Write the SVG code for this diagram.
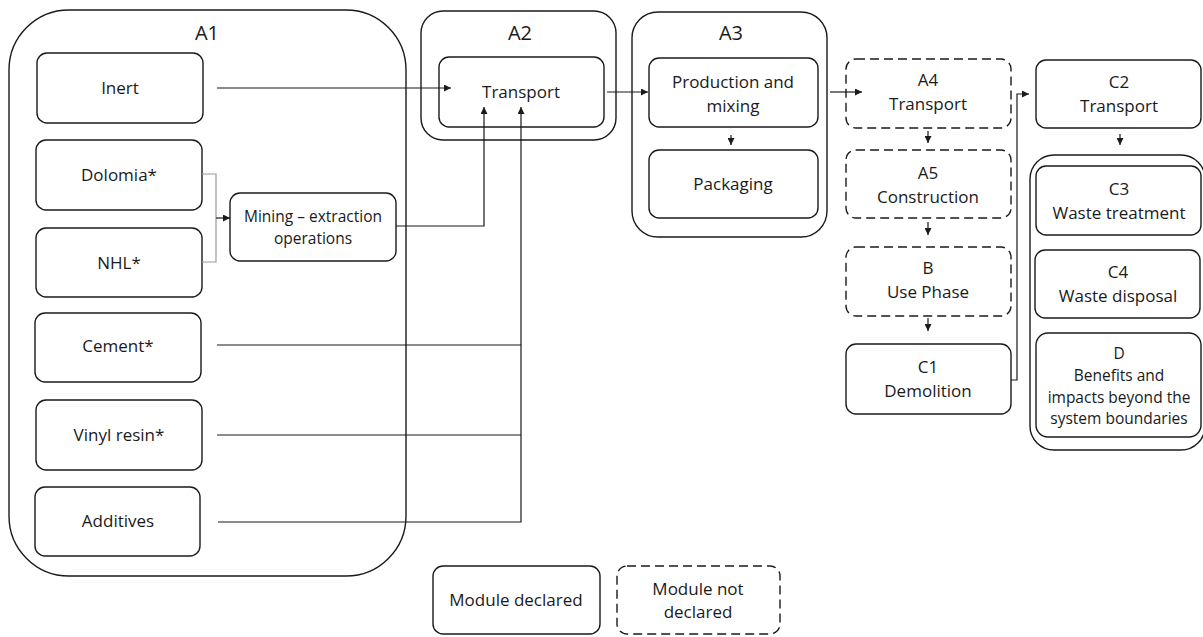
<svg xmlns="http://www.w3.org/2000/svg" width="1203" height="637" viewBox="0 0 1203 637">
<style>
.b{fill:#fff;stroke:#1a1a1a;stroke-width:1.4}
.d{fill:#fff;stroke:#1a1a1a;stroke-width:1.4;stroke-dasharray:9,5}
.o{fill:none;stroke:#1a1a1a;stroke-width:1.4}
.t{font-family:"Open Sans","Liberation Sans",sans-serif;font-size:17px;fill:#1a1a1a;text-anchor:middle}
.s{font-family:"Open Sans","Liberation Sans",sans-serif;font-size:15.5px;fill:#1a1a1a;text-anchor:middle}
.h{font-family:"Open Sans","Liberation Sans",sans-serif;font-size:20px;fill:#1a1a1a;text-anchor:middle}
.c{fill:none;stroke:#1a1a1a;stroke-width:1.2}
.g{fill:none;stroke:#999;stroke-width:1.2}
</style>
<defs>
<marker id="ar" viewBox="0 0 10 10" refX="10" refY="5" markerWidth="7" markerHeight="7" markerUnits="userSpaceOnUse" orient="auto"><path d="M0,0 L10,5 L0,10 z" fill="#1a1a1a"/></marker>
</defs>
<g id="A1"><rect class="o" x="9" y="10" width="397" height="566" rx="60"/><text class="h" x="207" y="40">A1</text></g>
<g id="A2"><rect class="o" x="421" y="11" width="195" height="129" rx="22"/><text class="h" x="520" y="40">A2</text></g>
<g id="A3"><rect class="o" x="632" y="12" width="195" height="225" rx="26"/><text class="h" x="731" y="40">A3</text></g>
<g id="Cgroup"><rect class="o" x="1030" y="155" width="175" height="295" rx="24"/></g>
<g id="inert"><rect class="b" x="37" y="53" width="166" height="70" rx="10"/><text class="t" x="120" y="94">Inert</text></g>
<g id="dolomia"><rect class="b" x="36" y="140" width="166" height="70" rx="10"/><text class="t" x="119" y="181">Dolomia*</text></g>
<g id="nhl"><rect class="b" x="36" y="228" width="166" height="69" rx="10"/><text class="t" x="119" y="269">NHL*</text></g>
<g id="cement"><rect class="b" x="35" y="313" width="166" height="69" rx="10"/><text class="t" x="118" y="352">Cement*</text></g>
<g id="vinyl"><rect class="b" x="36" y="400" width="166" height="70" rx="10"/><text class="t" x="119" y="441">Vinyl resin*</text></g>
<g id="additives"><rect class="b" x="35" y="487" width="165" height="69" rx="10"/><text class="t" x="118" y="527">Additives</text></g>
<g id="mining"><rect class="b" x="230" y="193" width="166" height="68" rx="10"/><text class="s" x="313" y="222">Mining – extraction</text><text class="s" x="313" y="244">operations</text></g>
<g id="transport"><rect class="b" x="439" y="57" width="165" height="70" rx="10"/><text class="t" x="521" y="98">Transport</text></g>
<g id="production"><rect class="b" x="649" y="58" width="169" height="69" rx="10"/><text class="t" x="733" y="88">Production and</text><text class="t" x="733" y="112">mixing</text></g>
<g id="packaging"><rect class="b" x="649" y="150" width="169" height="68" rx="10"/><text class="t" x="733" y="190">Packaging</text></g>
<g id="A4"><rect class="d" x="846" y="59" width="165" height="69" rx="10"/><text class="t" x="928" y="86">A4</text><text class="t" x="928" y="110">Transport</text></g>
<g id="A5"><rect class="d" x="846" y="150" width="165" height="68" rx="10"/><text class="t" x="928" y="179">A5</text><text class="t" x="928" y="203">Construction</text></g>
<g id="B"><rect class="d" x="846" y="247" width="165" height="69" rx="10"/><text class="t" x="928" y="274">B</text><text class="t" x="928" y="298">Use Phase</text></g>
<g id="C1"><rect class="b" x="846" y="344" width="165" height="70" rx="10"/><text class="t" x="928" y="373">C1</text><text class="t" x="928" y="397">Demolition</text></g>
<g id="C2"><rect class="b" x="1036" y="60" width="165" height="68" rx="10"/><text class="t" x="1119" y="88">C2</text><text class="t" x="1119" y="112">Transport</text></g>
<g id="C3"><rect class="b" x="1036" y="166" width="165" height="69" rx="10"/><text class="t" x="1119" y="195">C3</text><text class="t" x="1119" y="219">Waste treatment</text></g>
<g id="C4"><rect class="b" x="1035" y="250" width="165" height="68" rx="10"/><text class="t" x="1118" y="278">C4</text><text class="t" x="1118" y="302">Waste disposal</text></g>
<g id="D"><rect class="b" x="1036" y="333" width="165" height="104" rx="12"/><text class="s" x="1119" y="359">D</text><text class="s" x="1119" y="381">Benefits and</text><text class="s" x="1119" y="403">impacts beyond the</text><text class="s" x="1119" y="424">system boundaries</text></g>
<g id="legend-declared"><rect class="b" x="433" y="566" width="167" height="68" rx="10"/><text class="t" x="516" y="606">Module declared</text></g>
<g id="legend-not"><rect class="d" x="617" y="566" width="163" height="68" rx="10"/><text class="t" x="698" y="595">Module not</text><text class="t" x="698" y="618">declared</text></g>
<g id="connectors">
<path class="c" d="M217,88 H451" marker-end="url(#ar)"/>
<path class="g" d="M202,174 H216 V262 H202"/>
<path class="c" d="M216,218 H230" marker-end="url(#ar)"/>
<path class="c" d="M396,226 H484 V107" marker-end="url(#ar)"/>
<path class="c" d="M217,345 H521"/>
<path class="c" d="M217,435 H521"/>
<path class="c" d="M218,522 H521 V107" marker-end="url(#ar)"/>
<path class="c" d="M607,92 H648" marker-end="url(#ar)"/>
<path class="c" d="M731,135 V145" marker-end="url(#ar)"/>
<path class="c" d="M830,92 H862" marker-end="url(#ar)"/>
<path class="c" d="M928,131 V143" marker-end="url(#ar)"/>
<path class="c" d="M928,222 V235" marker-end="url(#ar)"/>
<path class="c" d="M928,318 V331" marker-end="url(#ar)"/>
<path class="c" d="M1011,380 H1017 V94 H1029" marker-end="url(#ar)"/>
<path class="c" d="M1120,134 V145" marker-end="url(#ar)"/>
</g>
</svg>
